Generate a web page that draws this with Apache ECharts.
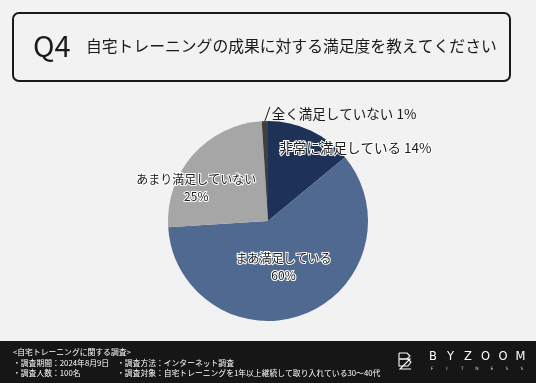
<!DOCTYPE html>
<html><head><meta charset="utf-8">
<script src="https://cdn.jsdelivr.net/npm/echarts@6/dist/echarts.min.js"></script>
<style>html,body{margin:0;padding:0;background:#f2f2f2}#c{width:536px;height:383px}</style>
</head><body><div id="c"></div>
<script>
const categories = ['非常に満足している', 'まあ満足している', 'あまり満足していない', '全く満足していない'];
const values = [14, 60, 25, 1];
const colors = ['#1e3156', '#506990', '#a6a6a6', '#3f3f3f'];
const titleQ = 'Q4';
const titleText = '自宅トレーニングの成果に対する満足度を教えてください';
const footerLines = ['<自宅トレーニングに関する調査>', '・調査期間：2024年8月9日', '・調査人数：100名'];
const footerLines2 = ['・調査方法：インターネット調査', '・調査対象：自宅トレーニングを1年以上継続して取り入れている30〜40代'];
const logoText = 'BYZOOM';
const logoSub = 'FITNESS';

const F = '"Noto Sans CJK JP", "Noto Sans", sans-serif';
const labelBase = {color:'#1a1a1a', fontFamily:F, fontSize:13.5, textBorderColor:'#ffffff', textBorderWidth:2, lineHeight:17};
const labelCfg = [
  {position:'inside', offset:[65,-25], formatter:'{b} {c}%'},
  {position:'inside', offset:[-4,-3], formatter:'{b}\n{c}%', align:'center', fontSize:12, lineHeight:17},
  {position:'inside', offset:[-32,2], formatter:'{b}\n{c}%', align:'center', fontSize:12, lineHeight:17},
  {position:'outside', formatter:'{b} {c}%', textBorderWidth:0}
];
const data = categories.map((n,i)=>({name:n, value:values[i], itemStyle:{color:colors[i]},
  label:Object.assign({show:true}, labelBase, labelCfg[i]),
  labelLine:{show:i===3, lineStyle:{color:'#1a1a1a', width:1}}}));

const graphics = [
  {type:'rect', shape:{x:13, y:13, width:497, height:68, r:6}, style:{fill:'#f2f2f2', stroke:'#1a1a1a', lineWidth:2}},
  {type:'text', left:33, top:31, style:{text:titleQ, font:'29px '+F, fill:'#1a1a1a'}},
  {type:'text', left:86, top:38, style:{text:titleText, font:'15.8px '+F, fill:'#1a1a1a'}},
  {type:'rect', shape:{x:0, y:341, width:536, height:42}, style:{fill:'#161616'}},
  {type:'text', left:13, top:348, style:{text:footerLines[0], font:'7.8px '+F, fill:'#ffffff'}},
  {type:'text', left:13, top:359, style:{text:footerLines[1], font:'7.8px '+F, fill:'#ffffff'}},
  {type:'text', left:13, top:369.5, style:{text:footerLines[2], font:'7.8px '+F, fill:'#ffffff'}},
  {type:'text', left:117, top:359, style:{text:footerLines2[0], font:'7.8px '+F, fill:'#ffffff'}},
  {type:'text', left:117, top:369.5, style:{text:footerLines2[1], font:'7.8px '+F, fill:'#ffffff'}},
  {type:'polyline', shape:{points:[[399,353],[407,353],[410,356],[407,359],[399,359],[408,359],[411,362],[408,366],[399,366],[399,353]]}, style:{stroke:'#ffffff', fill:null, lineWidth:1.1}},
  {type:'polyline', shape:{points:[[400,359],[410,359],[400,369],[411,369]]}, style:{stroke:'#ffffff', fill:null, lineWidth:1.1}}
];
logoText.split('').forEach((ch,i)=>graphics.push({type:'text', x:433+i*17.5, y:357, style:{text:ch, font:'11.5px "DejaVu Sans", sans-serif', fill:'#ffffff', align:'center', verticalAlign:'middle'}}));
logoSub.split('').forEach((ch,i)=>graphics.push({type:'text', x:432+i*15, y:368.5, style:{text:ch, font:'4.5px "DejaVu Sans", sans-serif', fill:'#dddddd', align:'center', verticalAlign:'middle'}}));

const chart = echarts.init(document.getElementById('c'), null, {renderer:'canvas'});
chart.setOption({
  backgroundColor:'#f2f2f2',
  animation:false,
  graphic:graphics,
  series:[{
    type:'pie',
    center:[268,221],
    radius:[0,100],
    startAngle:90,
    clockwise:true,
    data:data,
    labelLayout:function(p){
      if(p.dataIndex!==3) return {};
      const pt = p.labelLinePoints ? p.labelLinePoints[0] : [265,122];
      return {x:pt[0]+7, y:pt[1]-7, align:'left', verticalAlign:'middle',
        labelLinePoints:[[pt[0],pt[1]],[pt[0]+5,pt[1]-14],[pt[0]+5,pt[1]-14]]};
    }
  }]
});
</script></body></html>
